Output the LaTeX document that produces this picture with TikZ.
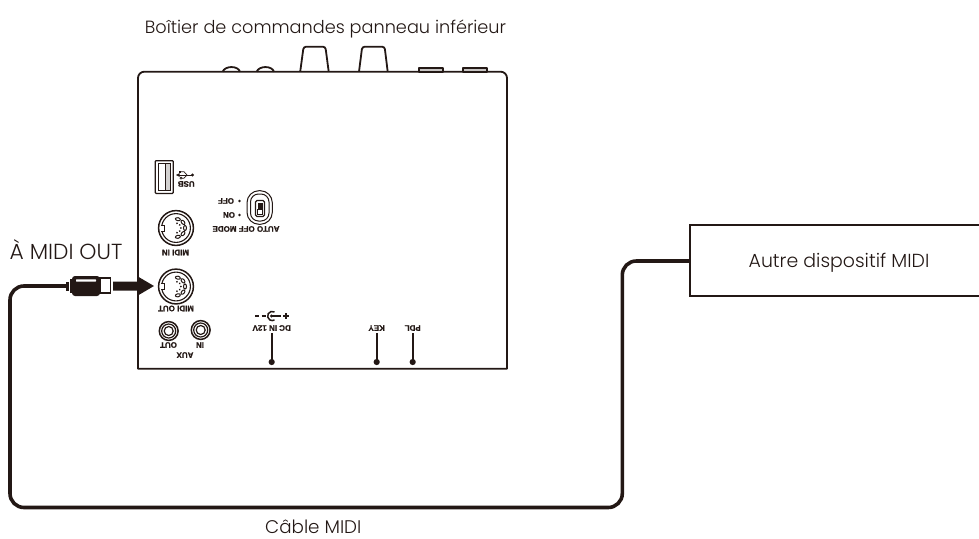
\documentclass[tikz,border=0pt]{standalone}
\usepackage{fontspec}
\setmainfont{Poppins Light}
\newfontfamily\panelfont{Liberation Sans}[Scale=1,FakeBold=0.6]
\definecolor{ink}{HTML}{231815}
\tikzset{
  x=1pt,y=-1pt,
  outline/.style={draw=ink,line width=1.8pt,line join=round},
  cable/.style={draw=ink,line width=3.6pt,rounded corners=14pt},
  caption/.style={text=ink,inner sep=0pt,anchor=base},
  panel/.style={text=ink,font=\panelfont\bfseries\fontsize{8}{9}\selectfont,rotate=180,inner sep=0pt},
  din/.pic={
    \draw[ink,line width=1.5pt] (0,0) circle (17.4);
    \draw[ink,line width=1.1pt] (0,0) circle (14.4);
    \fill[white] (-15.7,-3) rectangle (-12,3);
    \draw[ink,line width=1pt] (-15.4,-3) -- (-11.5,-3) -- (-11.5,3) -- (-15.4,3);
    \foreach \a in {-78,-39,0,39,78}{
      \draw[ink,line width=1pt,rotate=\a] (9,0) ellipse (1.5 and 2.5);
      \fill[ink,rotate=\a] (4.8,0) circle (1);
    }
  },
  jack/.pic={
    \draw[ink,line width=1.5pt] (0,0) circle (9.4);
    \draw[ink,line width=1.2pt] (0,0) circle (7);
    \draw[ink,line width=1.2pt] (0,0) circle (4.5);
  },
  post/.pic={
    \draw[ink,line width=1.8pt] (0,-29) -- (0,0);
    \fill[ink] (0,0) circle (3.1);
  }
}
\begin{document}
\begin{tikzpicture}
\useasboundingbox (0,0) rectangle (979,538);
% panel outline
\draw[outline] (138,368.7) -- (138,78) arc[start angle=180,end angle=270,radius=6.3]
  -- (500.7,71.7) arc[start angle=270,end angle=360,radius=6.3] -- (507,368.7) -- cycle;
% top bumps and knobs
\draw[outline] (222.7,71.7) .. controls (225,65.5) and (238,65.5) .. (240,71.7);
\draw[outline] (256.7,71.7) .. controls (259,65.5) and (272,65.5) .. (274,71.7);
\draw[outline,rounded corners=2.5pt] (300.2,71.7) -- (303.6,46.7) -- (325.4,46.7) -- (328.7,71.7);
\draw[outline,rounded corners=2.5pt] (359,71.7) -- (362.2,46.7) -- (384.6,46.7) -- (387.7,71.7);
\draw[outline,fill=ink!25] (419.3,67.8) rectangle (443.3,71.7);
\draw[outline,fill=ink!25] (462.7,67.8) rectangle (486.7,71.7);
% USB
\draw[ink,line width=1.3pt,rounded corners=.8pt] (155.3,160.7) rectangle (173.2,193.4);
\draw[ink,line width=.9pt] (158,163.5) rectangle (170.5,190.5);
\draw[ink,line width=.9pt,fill=ink!20] (165.5,163.5) rectangle (170.5,190.5);
\draw[ink,line width=.8pt] (178,175) -- (192.5,175);
\fill[ink] (192.5,175) circle (1.6);
\fill[ink] (176,175) -- (179.5,173.2) -- (179.5,176.8) -- cycle;
\draw[ink,line width=.7pt] (181,171.7) -- (184,171.7) -- (187,175) (182,178.2) -- (184,178.2) -- (187,175);
\fill[ink] (178.8,170.6) rectangle (181,172.8);
\draw[ink,line width=.6pt] (181,178.2) circle (1.1);
\node[panel] (usb) at (186.2,184) {USB};
% switch
\draw[ink,line width=1pt,rounded corners=12pt] (247,190.7) rectangle (272.3,224.3);
\draw[ink,line width=1pt,rounded corners=8pt] (250.5,194) rectangle (269,221);
\draw[ink,line width=1.2pt,rounded corners=1.5pt] (255.5,200.5) rectangle (264.5,216.5);
\fill[ink] (257.5,202.5) rectangle (262.5,209);
\draw[ink,line width=.7pt] (257.5,209) rectangle (262.5,214.5);
\fill[ink] (239.5,201) circle (1.3);
\fill[ink] (239.5,215) circle (1.3);
\node[panel] (off) at (226,201) {OFF};
\node[panel] (on) at (229,215) {ON};
\node[panel] (automode) at (246,229) {AUTO OFF MODE};
% connectors
\pic at (176,228) {din};
\pic (midiout) at (176,286.5) {din};
\node[panel] (midiinlbl) at (175.5,252.5) {MIDI IN};
\node[panel] (midioutlbl) at (176,308.5) {MIDI OUT};
\pic at (168.7,331) {jack};
\pic at (200.7,330) {jack};
\node[panel] (auxout) at (168.5,345) {OUT};
\node[panel] (auxin) at (200,345) {IN};
\node[panel] (aux) at (185,355) {AUX};
% DC
\draw[ink,line width=1.4pt] (255,316) -- (259,316) (261.5,316) -- (265.5,316) (271,316) -- (281,316);
\draw[ink,line width=1.5pt] (274.5,312) arc[start angle=-60,end angle=-300,radius=4.6];
\fill[ink] (271.5,316) circle (1.6);
\draw[ink,line width=1.4pt] (283,316) -- (289,316) (286,313) -- (286,319);
\node[panel] (dc) at (271.7,328) {DC IN 12V};
\node[panel] (key) at (376.7,328) {KEY};
\node[panel] (pdl) at (412.7,328) {PDL};
\pic at (271.7,362) {post};
\pic at (376.7,362) {post};
\pic at (412.7,362) {post};
% device box
\draw[ink,line width=1.6pt] (979,225) -- (690,225) -- (690,296) -- (979,296);
\coordinate (devport) at (690,261);
\node[caption,font=\fontsize{18.9}{20}\selectfont] (dev) at (839,267) {Autre dispositif MIDI};
% plug
\coordinate (plugtail) at (68,286);
\draw[cable] (plugtail) -- (10,286) -- (10,507.5) -- (622.3,507.5) -- (622.3,261) -- (devport);
\fill[ink] (66,281.5) rectangle (69,290.5);
\fill[ink] (70,279) rectangle (72,293);
\fill[ink,rounded corners=3pt] (72,276) rectangle (100,296);
\fill[white,rounded corners=.5pt] (76,279.3) rectangle (96,281.6);
\draw[ink,line width=1.2pt,fill=white] (100,278) rectangle (110.5,293);
% arrow
\fill[ink] (113,281.5) -- (137,281.5) -- (137,276) -- (154,286) -- (137,296) -- (137,290.5) -- (113,290.5) -- cycle;
% captions
\node[caption,font=\fontsize{17.7}{19}\selectfont] (title) at (325.5,33) {Boîtier de commandes panneau inférieur};
\node[caption,font=\fontsize{21.8}{23}\selectfont] (tomidi) at (66,259.5) {À MIDI OUT};
\node[caption,font=\fontsize{18.3}{20}\selectfont,anchor=base west] (cablelbl) at (265,533.5) {Câble MIDI};
\end{tikzpicture}
\end{document}
